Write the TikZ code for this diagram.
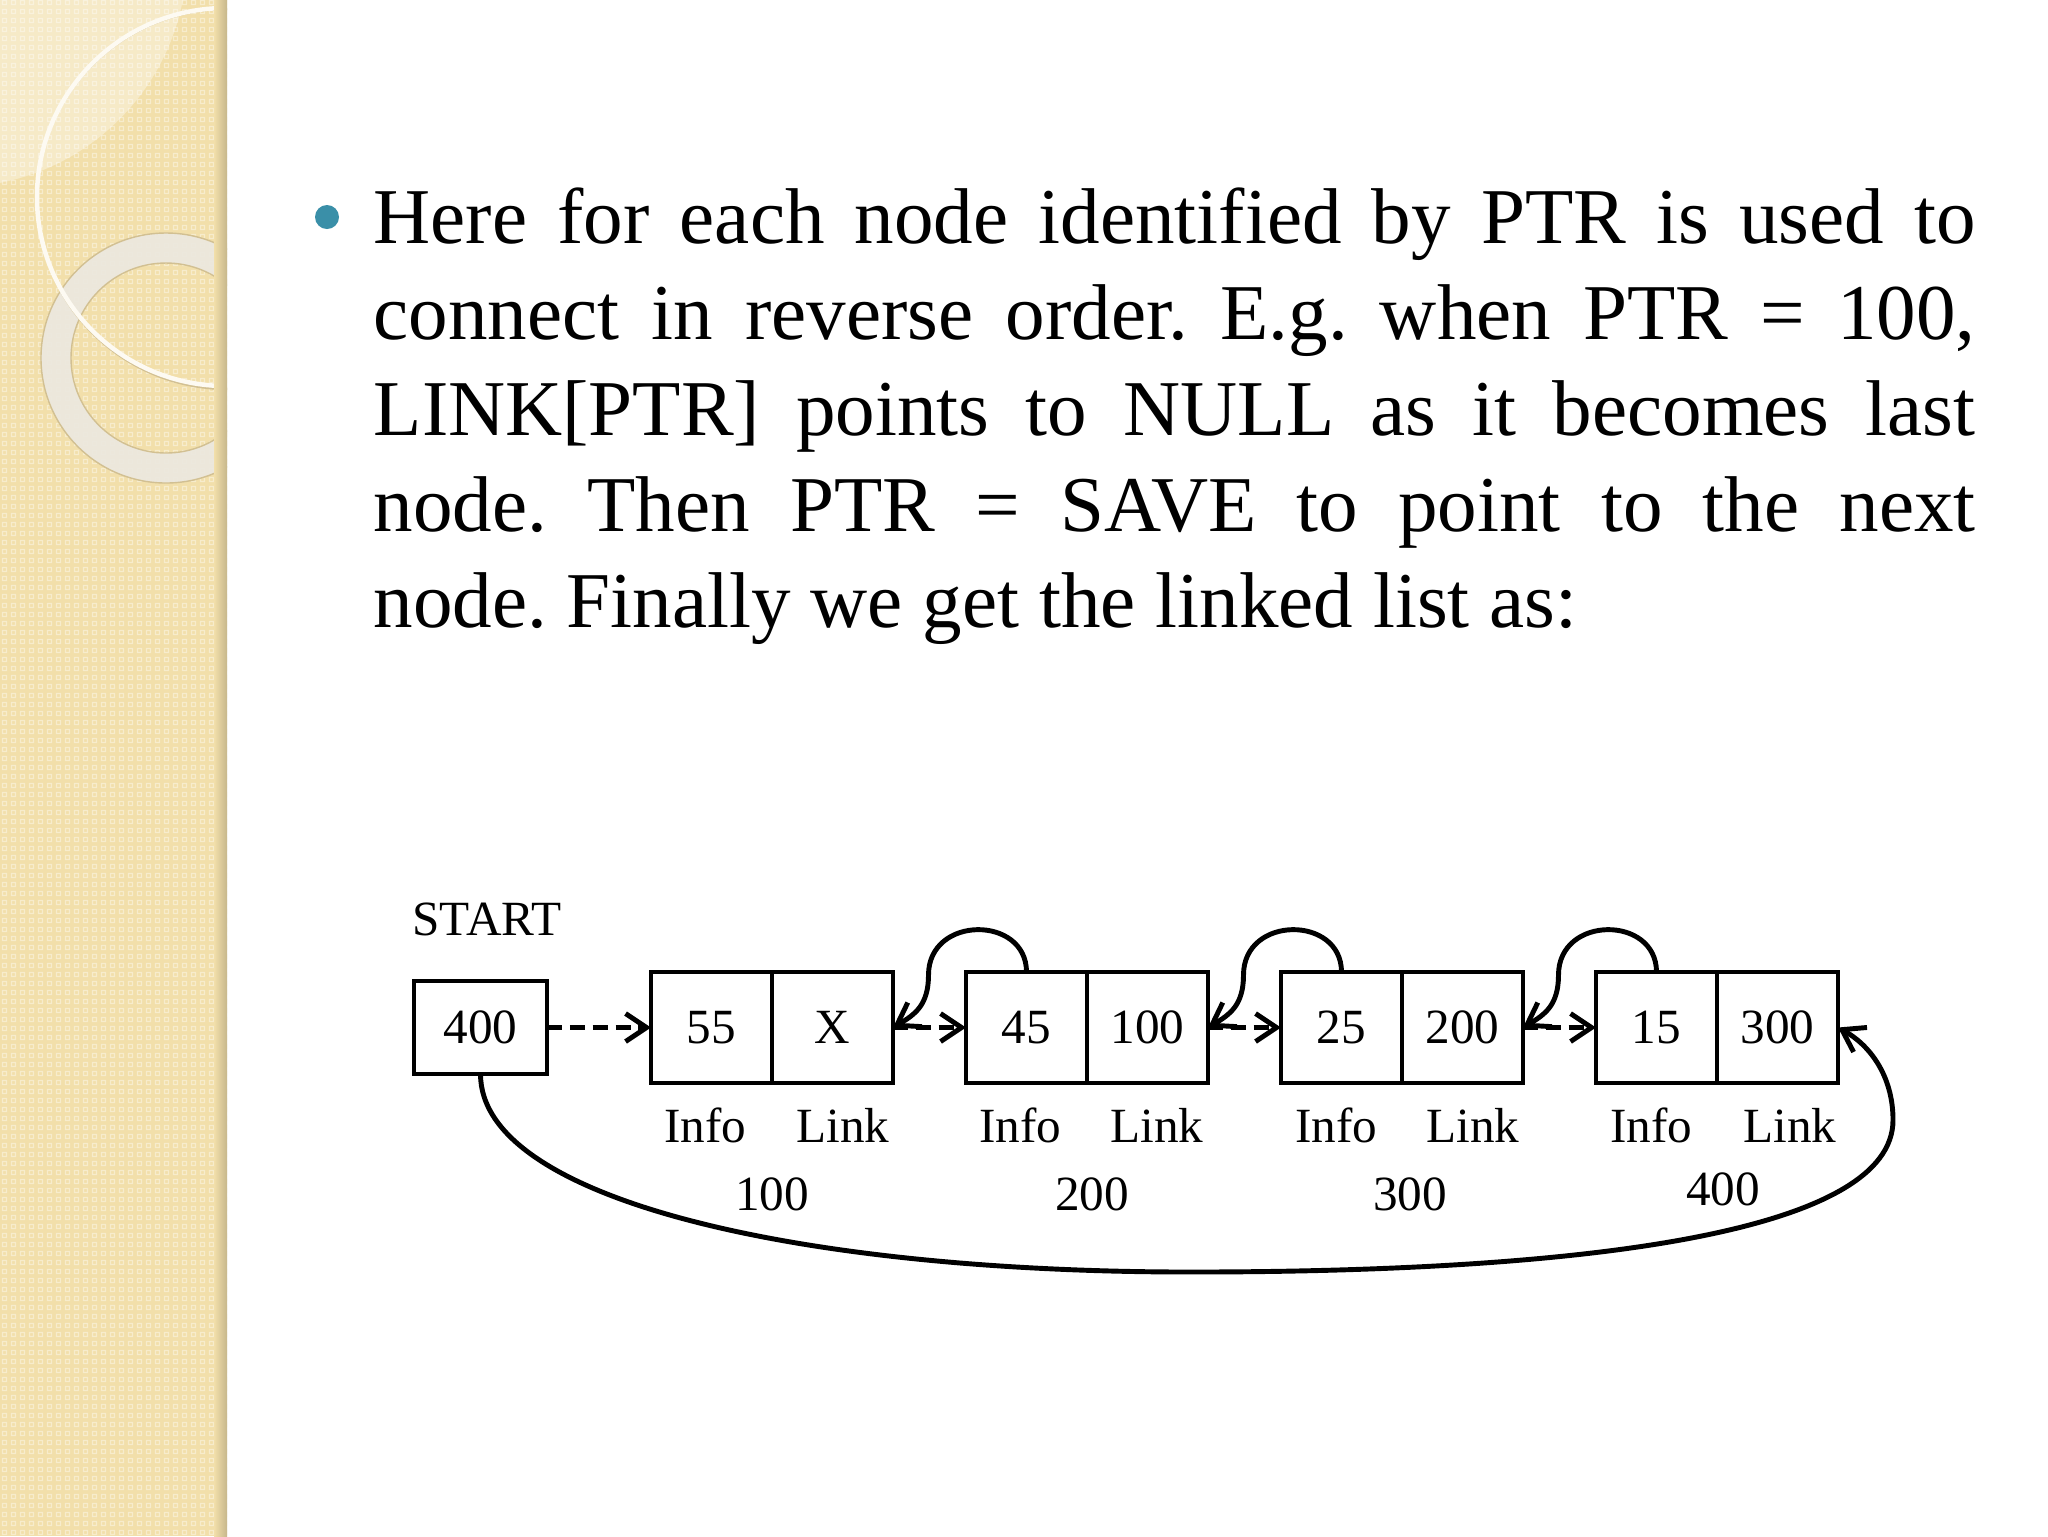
\documentclass[tikz,border=0pt]{standalone}
\usepackage{fontspec}
\setmainfont{Liberation Serif}
\usetikzlibrary{positioning,arrows.meta,patterns.meta}
\definecolor{sidebar}{RGB}{242,223,170}
\definecolor{ringgray}{RGB}{236,232,222}
\definecolor{ringedge}{RGB}{210,192,146}
\definecolor{bulletblue}{RGB}{58,143,168}
\tikzdeclarepattern{
  name=tinysq,
  type=uncolored,
  bounding box={(0,0) and (0.9mm,0.9mm)},
  tile size={(0.9mm,0.9mm)},
  code={\draw[line width=0.12mm] (0.25mm,0.25mm) rectangle (0.65mm,0.65mm);}
}
\tikzset{
  cell/.style={draw, line width=1.4pt, minimum width=12.1mm, minimum height=11.1mm,
    inner sep=0pt, outer sep=0pt, font=\fontsize{14}{16}\selectfont},
  lbl/.style={inner sep=0pt, anchor=base, font=\fontsize{14}{16}\selectfont},
  body/.style={inner sep=0pt, anchor=base west, font=\fontsize{22.5}{27}\selectfont},
  tip/.style={-{Straight Barb[length=2.1mm,width=2.8mm]}},
  ptr/.style={tip, line width=1.4pt, dash pattern=on 4.3pt off 2.2pt},
  back/.style={tip, line width=1.4pt}
}
\frenchspacing
\begin{document}
\begin{tikzpicture}[x=0.1mm,y=-0.1mm]
  \useasboundingbox (0,0) rectangle (2048,1536);
  \fill[white] (0,0) rectangle (2048,1536);
  % side bar
  \fill[sidebar] (0,0) rectangle (227,1536);
  \fill[pattern=tinysq, pattern color=white!40!sidebar] (0,0) rectangle (227,1536);
  \begin{scope}
    \clip (0,0) rectangle (227,1536);
    \fill[white, opacity=.35] (-44,-44) circle (231);
    \draw[ringgray, line width=3mm, opacity=.95] (166,358) circle (110);
    \draw[ringedge, line width=.4pt] (166,358) circle (125) (166,358) circle (95);
    \draw[ringedge, line width=.6pt] (227,199) circle (190);
    \draw[white!85!sidebar, line width=.45mm] (226,197) circle (189);
    \shade[left color=sidebar, right color=black!18!sidebar] (214,0) rectangle (227,1536);
  \end{scope}
  % text
  \fill[bulletblue] (327,217) circle (12);
  \node[body] (l1) at (373,243) {\makebox[160.2mm][s]{Here for each node identified by PTR is used to}};
  \node[body] (l2) at (373,339) {\makebox[160.2mm][s]{connect in reverse order. E.g. when PTR = 100,}};
  \node[body] (l3) at (373,435) {\makebox[160.2mm][s]{LINK[PTR] points to NULL as it becomes last}};
  \node[body] (l4) at (373,531) {\makebox[160.2mm][s]{node. Then PTR = SAVE to point to the next}};
  \node[body] (l5) at (373,627) {node. Finally we get the linked list as:};
  % list
  \node[cell, minimum width=13.3mm, minimum height=9.3mm] (start) at (480.5,1027.5) {400};
  \node[lbl] (startlbl) at (487,935) {START};
  \node[cell] (n1i) at (711.5,1027.5) {55};
  \node[cell, right=0pt of n1i] (n1l) {X};
  \node[cell, right=7.3mm of n1l] (n2i) {45};
  \node[cell, right=0pt of n2i] (n2l) {100};
  \node[cell, right=7.3mm of n2l] (n3i) {25};
  \node[cell, right=0pt of n3i] (n3l) {200};
  \node[cell, right=7.3mm of n3l] (n4i) {15};
  \node[cell, right=0pt of n4i] (n4l) {300};
  \node[lbl] (n1info) at (705,1142) {Info};
  \node[lbl] (n1link) at (843,1142) {Link};
  \node[lbl] (n2info) at (1020,1142) {Info};
  \node[lbl] (n2link) at (1157,1142) {Link};
  \node[lbl] (n3info) at (1336,1142) {Info};
  \node[lbl] (n3link) at (1473,1142) {Link};
  \node[lbl] (n4info) at (1651,1142) {Info};
  \node[lbl] (n4link) at (1790,1142) {Link};
  \node[lbl] (n1addr) at (772,1210) {100};
  \node[lbl] (n2addr) at (1092,1210) {200};
  \node[lbl] (n3addr) at (1410,1210) {300};
  \node[lbl] (n4addr) at (1723,1205) {400};
  \draw[ptr] (start) -- (n1i);
  \draw[ptr] (n1l) -- (n2i);
  \draw[ptr] (n2l) -- (n3i);
  \draw[ptr] (n3l) -- (n4i);
  \draw[back] (n2i.north) .. controls +(0,-57) and +(0,-60) .. ++(-98,3)
    .. controls +(0,30) and +(22,-13) .. (n1l.east);
  \draw[back] (n3i.north) .. controls +(0,-57) and +(0,-60) .. ++(-98,3)
    .. controls +(0,30) and +(22,-13) .. (n2l.east);
  \draw[back] (n4i.north) .. controls +(0,-57) and +(0,-60) .. ++(-98,3)
    .. controls +(0,30) and +(22,-13) .. (n3l.east);
  \coordinate (low) at (1190,1272);
  \coordinate (turn) at (1893,1120);
  \draw[back] (start.south) .. controls +(0,126) and +(-390,0) .. (low)
    .. controls +(410,0) and +(0,110) .. (turn)
    .. controls +(0,-45) and +(31,17) .. (n4l.east);
\end{tikzpicture}
\end{document}
